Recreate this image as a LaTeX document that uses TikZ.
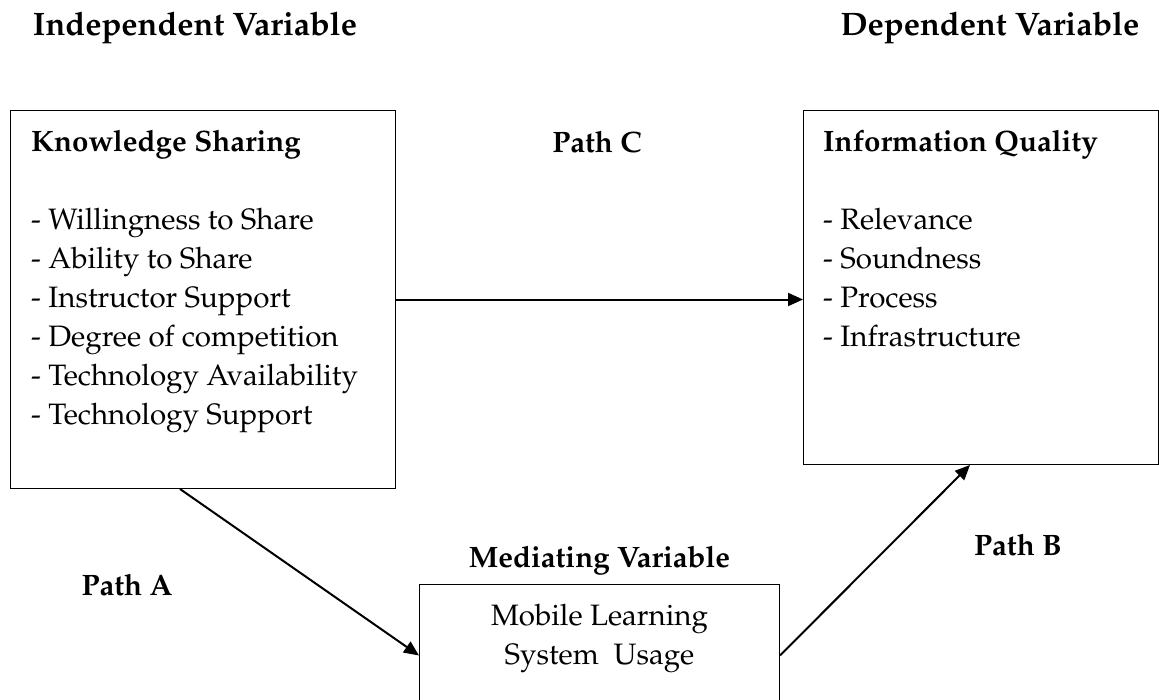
\documentclass[tikz,border=0pt]{standalone}
\usepackage[T1]{fontenc}
\usepackage{mathpazo}
\usetikzlibrary{positioning,arrows.meta}

\begin{document}
\begin{tikzpicture}[
		x=1pt, y=-1pt,
		every node/.style={font=\fontsize{29.5}{39}\selectfont, inner sep=0pt},
		varbox/.style={draw, line width=1pt, rectangle, anchor=north west},
		head/.style={font=\fontsize{29.5}{39}\selectfont\bfseries},
		tophead/.style={font=\fontsize{32.5}{39}\selectfont\bfseries},
		items/.style={align=left, anchor=north west},
		link/.style={line width=2pt, -{Triangle[length=15pt,width=13pt]}}
		]
		
		\clip (0,0) rectangle (1159,699);
		
		% the three boxes
		\node[varbox, minimum width=385pt, minimum height=378pt] (ks) at (10,110) {};
		\node[varbox, minimum width=355pt, minimum height=354pt] (iq) at (803,110) {};
		\node[varbox, minimum width=360pt, minimum height=142pt] (med) at (419,584) {};
		
		\node[items] (kstext) at ([shift={(21pt,-20pt)}]ks.north west)
		{\textbf{Knowledge Sharing}\\[39pt]
			- Willingness to Share\\
			- Ability to Share\\
			- Instructor Support\\
			- Degree of competition\\
			- Technology Availability\\
			- Technology Support};
		\node[items] (iqtext) at ([shift={(20pt,-20pt)}]iq.north west)
		{\textbf{Information Quality}\\[39pt]
			- Relevance\\
			- Soundness\\
			- Process\\
			- Infrastructure};
		\node[align=center, anchor=north] (medtext) at ([yshift=-20pt]med.north)
		{Mobile Learning\\System~~Usage};
		
		% headings
		\node[tophead] (indep) at (195,28) {Independent Variable};
		\node[tophead] (dep) at (990,28) {Dependent Variable};
		\node[head, above=9pt of med] (medhead) {Mediating Variable};
		\node[head] (pathc) at (597,142) {Path C};
		\node[head] (patha) at (127,585) {Path A};
		\node[head] (pathb) at (1018,545) {Path B};
		
		% paths
		\draw[link] (ks.east) -- (ks.east -| iq.west);
		\draw[link] ([xshift=170pt]ks.south west) -- (med.west);
		\draw[link] (med.east) -- ([xshift=167pt]iq.south west);
		
	\end{tikzpicture}
\end{document}
